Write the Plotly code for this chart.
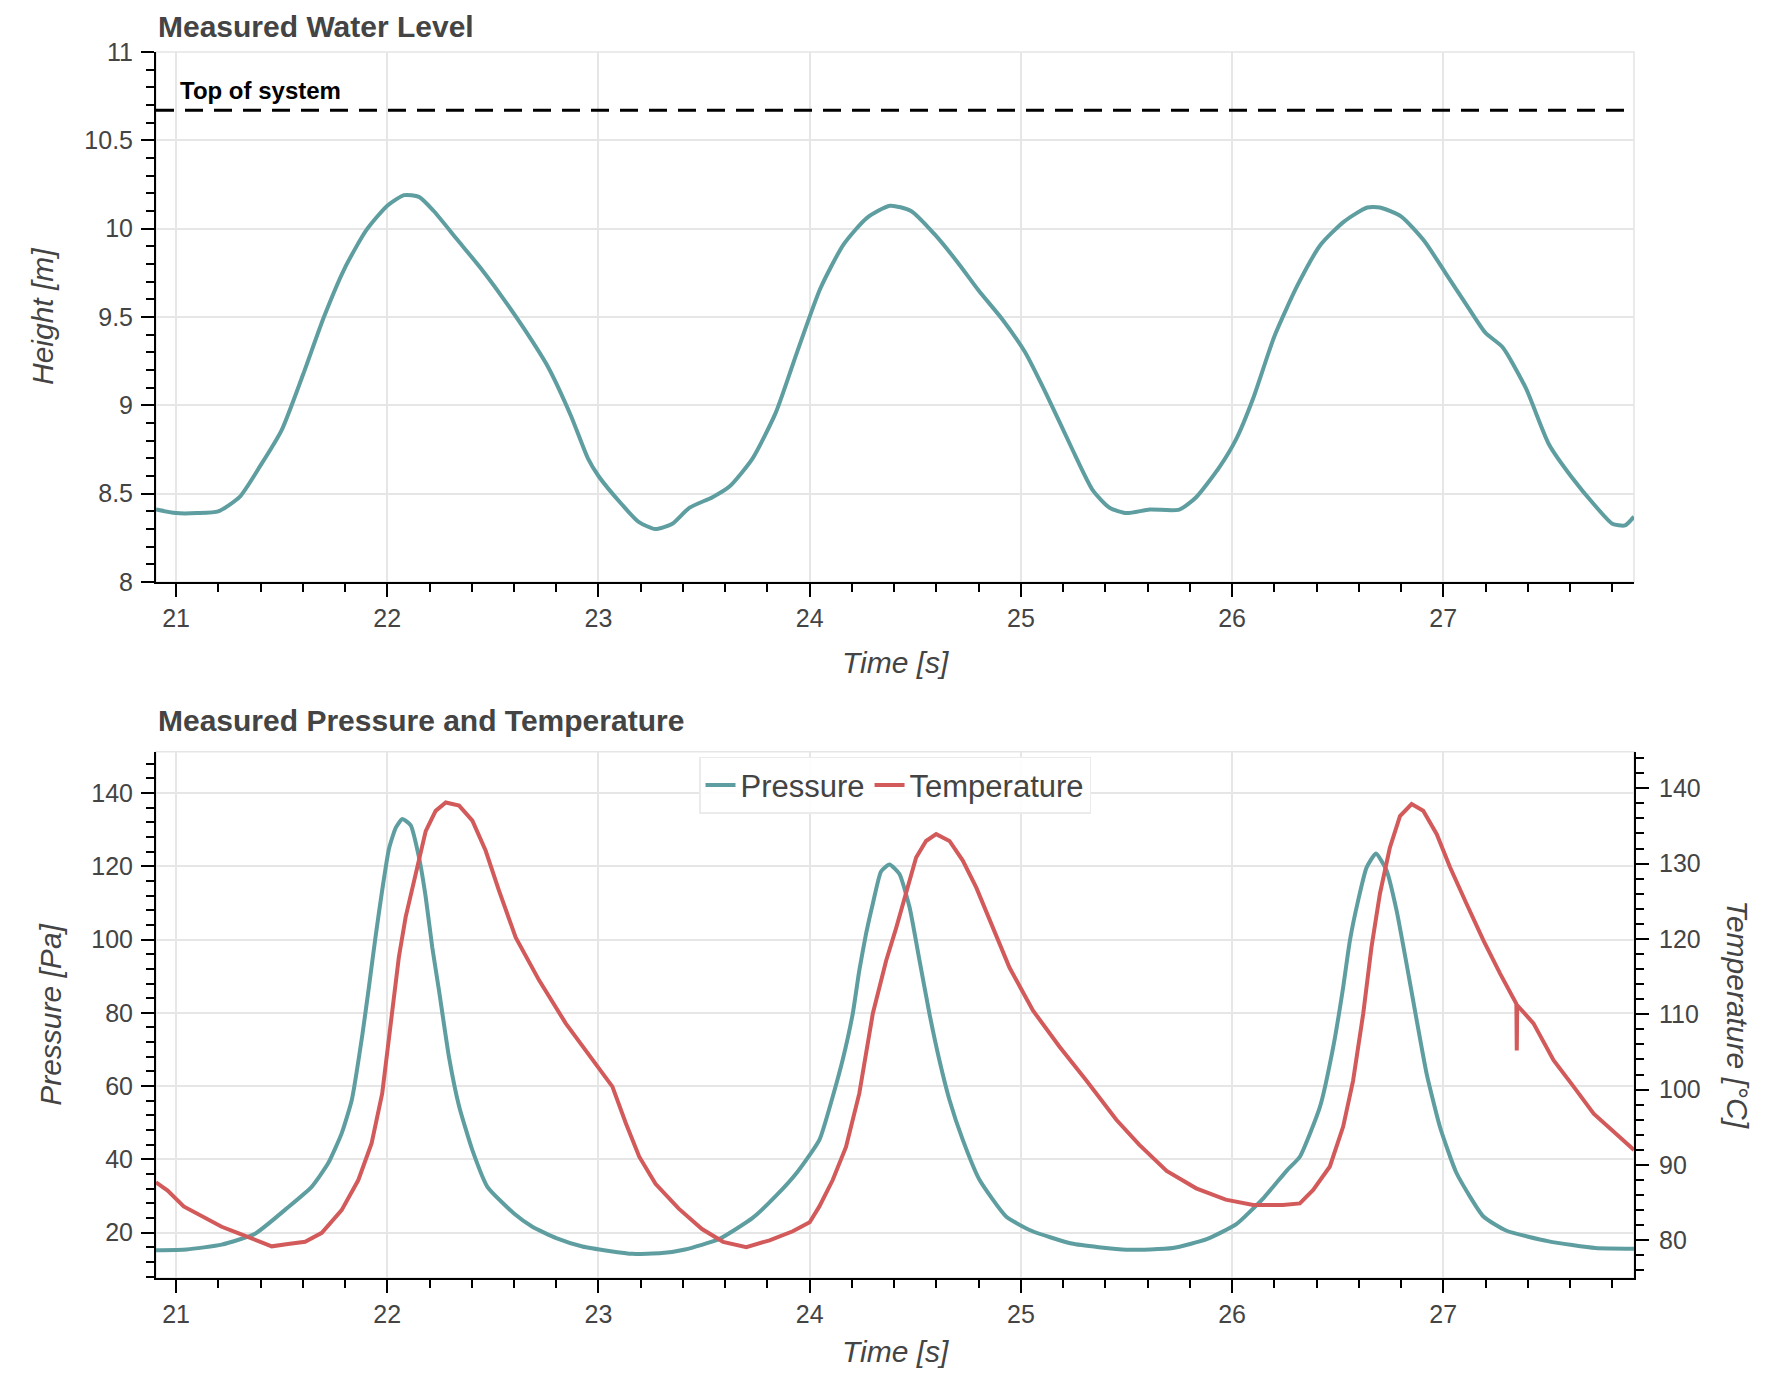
import plotly.graph_objects as go

# ---------------- data ----------------
level_time = [20.905, 21.0, 21.1, 21.2, 21.3, 21.4, 21.5, 21.6, 21.7, 21.8, 21.9, 22.0, 22.08,
              22.15, 22.22, 22.33, 22.44, 22.54, 22.65, 22.76, 22.87, 22.95, 23.0, 23.11, 23.19,
              23.27, 23.35, 23.43, 23.54, 23.62, 23.73, 23.84, 23.94, 24.05, 24.16, 24.27, 24.38,
              24.48, 24.59, 24.7, 24.8, 24.91, 25.02, 25.13, 25.24, 25.34, 25.42, 25.5, 25.61,
              25.75, 25.83, 25.94, 26.02, 26.1, 26.2, 26.31, 26.42, 26.53, 26.64, 26.7, 26.8,
              26.91, 27.01, 27.12, 27.2, 27.28, 27.39, 27.5, 27.61, 27.72, 27.8, 27.86, 27.903]
level_height = [8.41, 8.39, 8.39, 8.40, 8.48, 8.66, 8.86, 9.17, 9.50, 9.78, 9.99, 10.13, 10.19,
                10.18, 10.10, 9.94, 9.78, 9.62, 9.43, 9.22, 8.94, 8.70, 8.60, 8.44, 8.34,
                8.30, 8.33, 8.42, 8.48, 8.54, 8.70, 8.96, 9.30, 9.66, 9.91, 10.06, 10.13,
                10.10, 9.97, 9.81, 9.65, 9.49, 9.30, 9.04, 8.76, 8.52, 8.42, 8.39, 8.41,
                8.41, 8.48, 8.65, 8.81, 9.04, 9.39, 9.68, 9.91, 10.04, 10.12, 10.12, 10.07,
                9.93, 9.75, 9.55, 9.41, 9.33, 9.10, 8.78, 8.59, 8.43, 8.33, 8.32, 8.37]

pressure_time = [20.905, 21.05, 21.216, 21.374, 21.532, 21.642, 21.72, 21.784, 21.832, 21.882,
                 21.913, 21.945, 21.976, 22.008, 22.04, 22.071, 22.111, 22.15, 22.182, 22.213,
                 22.245, 22.292, 22.34, 22.403, 22.474, 22.6, 22.687, 22.8, 22.924, 23.05,
                 23.161, 23.3, 23.41, 23.57, 23.73, 23.84, 23.94, 24.046, 24.109, 24.156,
                 24.204, 24.235, 24.267, 24.299, 24.338, 24.378, 24.425, 24.473, 24.52, 24.567,
                 24.614, 24.662, 24.725, 24.804, 24.93, 25.05, 25.24, 25.5, 25.72, 25.88,
                 26.02, 26.15, 26.26, 26.321, 26.416, 26.479, 26.526, 26.558, 26.597, 26.637,
                 26.681, 26.732, 26.779, 26.826, 26.874, 26.921, 26.984, 27.063, 27.19, 27.3,
                 27.5, 27.72, 27.903]
pressure_values = [15.2, 15.4, 16.7, 19.7, 27.0, 32.5, 38.9, 47.1, 56.2, 74.0,
                   87.0, 101.0, 113.5, 124.8, 130.5, 132.9, 131.2, 122.5, 111.6, 97.9,
                   86.1, 68.0, 54.5, 42.5, 32.5, 25.2, 21.6, 18.5, 16.2, 15.0,
                   14.2, 14.4, 15.4, 18.2, 24.0, 30.0, 36.4, 45.3, 57.1, 67.1,
                   79.8, 91.6, 101.6, 109.8, 118.6, 120.5, 117.9, 108.8, 94.3, 79.8,
                   67.1, 56.2, 45.3, 34.4, 24.4, 20.5, 17.0, 15.3, 15.8, 18.2,
                   22.3, 29.5, 37.0, 40.7, 54.3, 70.7, 87.0, 99.8, 110.7, 119.7,
                   123.5, 118.8, 107.9, 93.4, 78.0, 63.4, 48.9, 36.2, 24.4, 20.5,
                   17.6, 15.8, 15.6]

temp_time = [20.905, 20.96, 21.036, 21.12, 21.216, 21.3, 21.374, 21.453, 21.53, 21.611, 21.69,
             21.784, 21.863, 21.926, 21.976, 22.016, 22.055, 22.087, 22.135, 22.182, 22.229,
             22.277, 22.34, 22.403, 22.466, 22.529, 22.608, 22.719, 22.845, 22.972, 23.066,
             23.13, 23.193, 23.27, 23.38, 23.49, 23.59, 23.7, 23.81, 23.92, 24.0, 24.046,
             24.109, 24.172, 24.235, 24.299, 24.362, 24.41, 24.457, 24.504, 24.551, 24.599,
             24.662, 24.725, 24.789, 24.867, 24.946, 25.057, 25.183, 25.31, 25.452, 25.56,
             25.69, 25.83, 25.97, 26.1, 26.24, 26.321, 26.384, 26.463, 26.526, 26.573,
             26.621, 26.66, 26.7, 26.747, 26.795, 26.85, 26.905, 26.969, 27.032, 27.111,
             27.19, 27.269, 27.346, 27.348, 27.35, 27.427, 27.522, 27.617, 27.712, 27.903]
temp_values = [87.7, 86.6, 84.5, 83.2, 81.8, 80.9, 80.1, 79.2, 79.5, 79.8, 81.0,
               84.0, 88.0, 92.9, 99.5, 108.8, 117.6, 122.9, 128.6, 134.3, 137.0,
               138.1, 137.7, 135.7, 131.7, 126.4, 120.2, 114.5, 108.8, 103.9, 100.4,
               95.5, 91.1, 87.5, 84.2, 81.5, 79.8, 79.1, 80.0, 81.2, 82.4, 84.5,
               88.0, 92.4, 99.5, 110.1, 117.1, 121.5, 126.0, 130.8, 133.0, 133.9,
               133.0, 130.4, 126.8, 121.5, 116.2, 110.5, 105.7, 101.2, 96.0, 92.7,
               89.2, 86.9, 85.4, 84.7, 84.7, 84.9, 86.7, 89.8, 95.1, 101.2,
               110.1, 118.9, 126.0, 132.1, 136.3, 137.9, 137.0, 133.9, 129.5, 124.6,
               119.8, 115.4, 111.4, 105.2, 111.2, 108.8, 103.9, 100.4, 96.8, 92.0]

top_of_system = 10.67
x_tick_values = [21, 22, 23, 24, 25, 26, 27]

# ---------------- style ----------------
FONT = "Liberation Sans, Arial, Helvetica, sans-serif"
TEAL = "#5f9ea0"
RED = "#d35a5a"
TEXT = "#444444"

fig = go.Figure()
fig.add_trace(go.Scatter(x=level_time, y=level_height, mode="lines", showlegend=False,
                         line=dict(color=TEAL, width=4, shape="spline", smoothing=0.6),
                         xaxis="x", yaxis="y"))
fig.add_trace(go.Scatter(x=pressure_time, y=pressure_values, mode="lines", name="Pressure",
                         line=dict(color=TEAL, width=4, shape="spline", smoothing=0.5),
                         xaxis="x2", yaxis="y2"))
fig.add_trace(go.Scatter(x=temp_time, y=temp_values, mode="lines", name="Temperature",
                         line=dict(color=RED, width=4),
                         xaxis="x2", yaxis="y3"))


def ax(**kw):
    d = dict(showline=True, linecolor="black", linewidth=2, ticks="outside", ticklen=13,
             tickwidth=2, tickcolor="black", ticklabelstandoff=0,
             tickfont=dict(size=25, color=TEXT, family=FONT),
             showgrid=True, gridcolor="#e6e6e6", gridwidth=1.5, zeroline=False)
    d.update(kw)
    return d


def minor(dt):
    return dict(ticks="outside", ticklen=8, tickwidth=2, tickcolor="black", dtick=dt, showgrid=False)


XR = [20.905, 27.903]
TOP_DOM = [0.5677, 1.0]
BOT_DOM = [0.0, 0.4293]

# page body has an 8px margin: figure is 16px smaller than the window
fig.update_layout(
    width=1770, height=1361,
    margin=dict(l=148, r=144, t=44, b=91),
    paper_bgcolor="white", plot_bgcolor="white",
    font=dict(family=FONT, color=TEXT),
    xaxis=ax(domain=[0, 1], anchor="y", range=XR, tickvals=x_tick_values, minor=minor(0.2)),
    yaxis=ax(domain=TOP_DOM, anchor="x", range=[8, 11], dtick=0.5, minor=minor(0.1),
             ticklabelstandoff=3),
    xaxis2=ax(domain=[0, 1], anchor="y2", range=XR, tickvals=x_tick_values, minor=minor(0.2)),
    yaxis2=ax(domain=BOT_DOM, anchor="x2", range=[7.6, 151.3], dtick=20, minor=minor(4),
              ticklabelstandoff=3),
    yaxis3=ax(overlaying="y2", anchor="x2", side="right", range=[75.0, 144.85], dtick=10,
              minor=minor(2), showgrid=False, ticklabelstandoff=5),
    legend=dict(orientation="h", x=0.5, xanchor="center", y=0.425, yanchor="top",
                bgcolor="rgba(255,255,255,0.92)", bordercolor="#ebebeb", borderwidth=1.5,
                font=dict(size=31, color=TEXT, family=FONT), itemwidth=30),
)

# plot frame outlines
for xr, yr in (("x domain", "y domain"), ("x2 domain", "y2 domain")):
    fig.add_shape(type="rect", xref=xr, yref=yr, x0=0, x1=1, y0=0, y1=1,
                  line=dict(color="#e5e5e5", width=1.5), layer="below")

# top of system line
fig.add_shape(type="line", xref="x domain", yref="y", x0=0, x1=1,
              y0=top_of_system, y1=top_of_system,
              line=dict(color="black", width=3, dash="18px,11px"))
fig.add_annotation(text="<b>Top of system</b>", xref="x domain", yref="y", x=0.015,
                   y=top_of_system, xanchor="left", yanchor="bottom", yshift=4, showarrow=False,
                   font=dict(size=24, color="black", family=FONT))

# titles
fig.add_annotation(text="<b>Measured Water Level</b>", xref="paper", yref="paper", x=0, y=1.021,
                   xanchor="left", yanchor="middle", showarrow=False,
                   font=dict(size=30, color=TEXT, family=FONT))
fig.add_annotation(text="<b>Measured Pressure and Temperature</b>", xref="paper", yref="paper",
                   x=0, y=0.4551, xanchor="left", yanchor="middle", showarrow=False,
                   font=dict(size=30, color=TEXT, family=FONT))

# axis titles
for txt, x, y, ang in (("<i>Time [s]</i>", 0.5, 0.5024, 0),
                       ("<i>Time [s]</i>", 0.5, -0.0600, 0),
                       ("<i>Height [m]</i>", -0.0764, 0.7839, -90),
                       ("<i>Pressure [Pa]</i>", -0.071, 0.2147, -90),
                       ("<i>Temperature [°C]</i>", 1.070, 0.2147, 90)):
    fig.add_annotation(text=txt, xref="paper", yref="paper", x=x, y=y, xanchor="center",
                       yanchor="middle", textangle=ang, showarrow=False,
                       font=dict(size=30, color=TEXT, family=FONT))

fig.write_html("out.html")
